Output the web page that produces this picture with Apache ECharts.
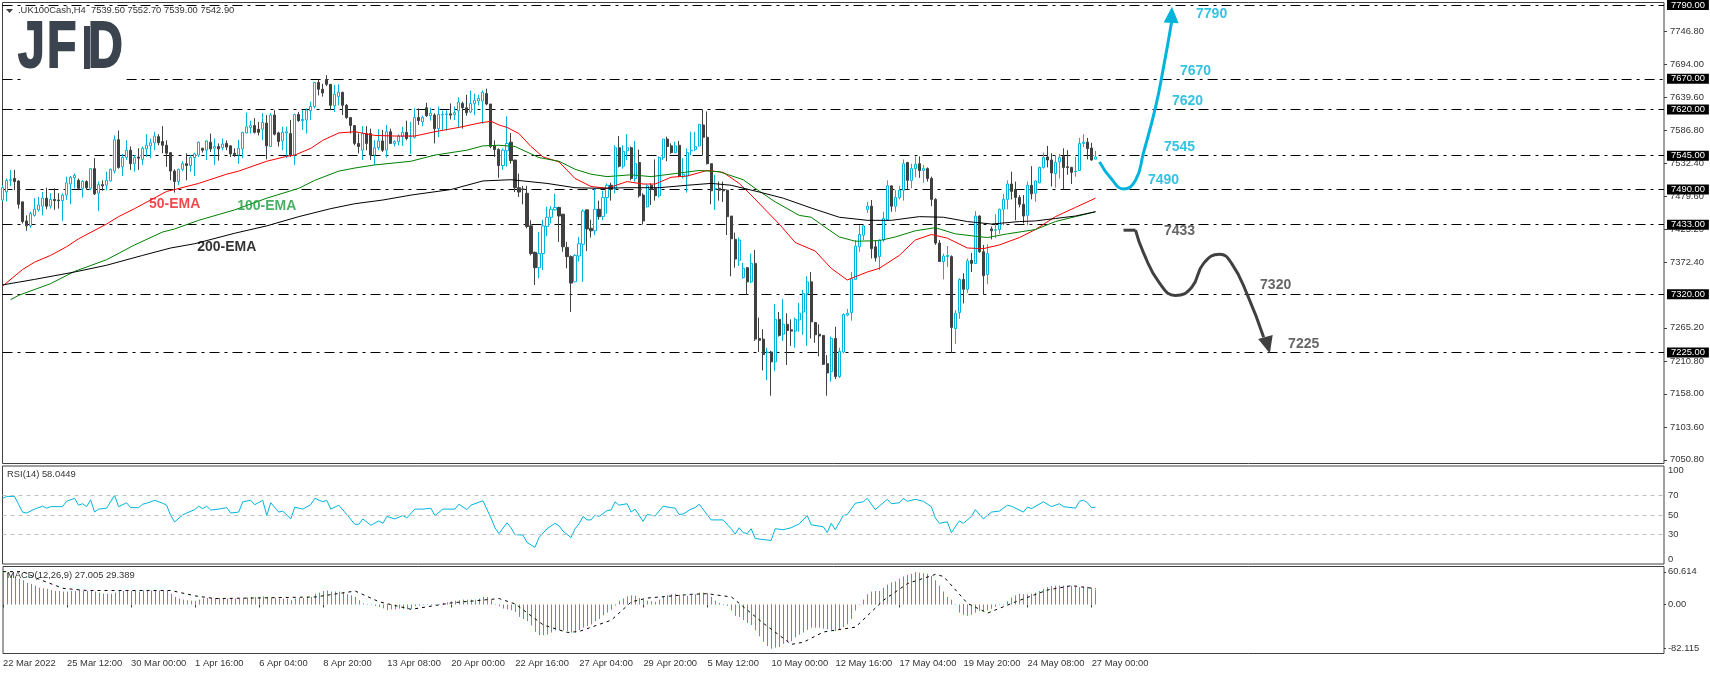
<!DOCTYPE html>
<html lang="en" style="height: 100%">
<head>
    <meta charset="utf-8"/>
    <title>UK100Cash H4</title>
    <script src="https://cdn.jsdelivr.net/npm/echarts@6/dist/echarts.min.js"></script>
    <style>
        body { margin: 0; background: #fff; }
        #container { width: 1710px; height: 674px; }
    </style>
</head>
<body>
<div id="container"></div>
<script type="text/javascript">
    // candles, oldest first
    var opens = [
        7473,7486,7505,7508,7504,7470,7439,7431,7448,7457, 7463,7476,7463,7474,7473,7472,7481,7499,7509,7505,
        7492,7503,7492,7524,7484,7498,7497,7504,7520,7571, 7527,7542,7554,7532,7543,7539,7556,7561,7566,7576,
        7568,7562,7550,7520,7503,7523,7532,7529,7542,7546, 7557,7554,7567,7557,7560,7558,7565,7561,7549,7546,
        7556,7582,7591,7594,7588,7588,7598,7560,7611,7582, 7569,7582,7581,7546,7612,7602,7603,7618,7625,7664,
        7653,7669,7661,7626,7641,7648,7627,7607,7594,7565, 7554,7581,7581,7546,7558,7569,7554,7584,7565,7568,
        7576,7583,7576,7575,7607,7600,7623,7610,7611,7589, 7611,7612,7613,7612,7618,7630,7623,7616,7630,7634,
        7634,7646,7629,7561,7555,7529,7553,7567,7538,7493, 7491,7484,7431,7388,7363,7386,7430,7445,7457,7461,
        7450,7396,7381,7340,7382,7401,7457,7427,7423,7458, 7446,7477,7497,7492,7558,7528,7553,7558,7508,7534,
        7481,7462,7497,7492,7480,7542,7572,7561,7550,7562, 7511,7512,7553,7555,7561,7595,7575,7532,7491,7492,
        7490,7489,7447,7409,7375,7347,7363,7340,7370,7248, 7247,7225,7226,7210,7279,7255,7271,7262,7260,7278,
        7291,7321,7340,7274,7255,7253,7207,7194,7248,7186, 7226,7286,7290,7344,7397,7416,7458,7463,7397,7381,
        7408,7441,7496,7463,7477,7489,7534,7505,7524,7532, 7521,7524,7508,7474,7403,7373,7381,7381,7264,7290,
        7344,7328,7375,7370,7447,7389,7352,7426,7424,7425, 7458,7474,7499,7490,7477,7466,7448,7497,7484,7501,
        7526,7543,7538,7516,7535,7544,7527,7526,7519,7521, 7565,7567,7557.5,7539.5
    ];
    var closes = [
        7493,7505,7506,7503,7466,7438,7431,7451,7458,7465, 7476,7463,7474,7472,7472,7481,7501,7510,7513,7492,
        7503,7493,7524,7483,7498,7496,7505,7523,7571,7526, 7542,7554,7532,7542,7541,7557,7562,7566,7577,7566,
        7562,7549,7520,7503,7523,7532,7529,7542,7548,7567, 7554,7569,7556,7560,7556,7564,7559,7548,7547,7557,
        7583,7592,7594,7583,7583,7599,7561,7611,7580,7568, 7583,7584,7546,7612,7602,7604,7619,7625,7664,7653,
        7647,7661,7627,7645,7648,7627,7607,7594,7565,7560, 7581,7565,7546,7558,7569,7554,7584,7565,7568,7577,
        7583,7573,7577,7607,7602,7607,7610,7614,7589,7612, 7612,7613,7611,7615,7632,7623,7615,7630,7635,7638,
        7648,7629,7560,7555,7529,7554,7565,7537,7493,7486, 7490,7430,7386,7363,7386,7431,7445,7458,7461,7447,
        7397,7381,7338,7383,7402,7455,7426,7423,7458,7446, 7477,7497,7490,7558,7528,7552,7558,7508,7532,7480,
        7439,7496,7490,7480,7542,7572,7560,7550,7561,7512, 7515,7550,7554,7560,7596,7575,7532,7488,7492,7489,
        7488,7446,7410,7377,7408,7362,7340,7370,7247,7245, 7222,7226,7210,7279,7253,7271,7261,7260,7279,7289,
        7321,7340,7275,7254,7252,7206,7192,7248,7186,7227, 7287,7289,7345,7398,7417,7431,7463,7394,7379,7408,
        7443,7496,7463,7477,7489,7532,7505,7524,7531,7521, 7524,7508,7474,7403,7373,7382,7383,7266,7289,7344,
        7328,7374,7370,7447,7389,7350,7386,7423,7424.5,7458, 7474,7499,7487,7477,7466,7447,7497,7483,7504,7526,
        7542,7538,7517,7534,7542,7526,7526,7518,7520,7565, 7567,7556.5,7538,7542.9
    ];
    var lows = [
        7471,7471,7496,7489,7459,7435,7423,7428,7446,7454, 7448,7458,7459,7457,7459,7439,7473,7466,7492,7489,
        7477,7490,7489,7481,7455,7488,7489,7503,7516,7524, 7512,7538,7522,7519,7522,7530,7543,7541,7554,7562,
        7549,7527,7505,7485,7497,7520,7505,7519,7512,7543, 7550,7538,7551,7530,7537,7554,7554,7543,7543,7532,
        7541,7581,7581,7581,7578,7570,7539,7560,7578,7560, 7554,7541,7543,7530,7600,7587,7581,7603,7622,7643,
        7641,7658,7619,7616,7627,7611,7605,7581,7562,7549, 7538,7554,7538,7530,7554,7551,7542,7564,7560,7562,
        7561,7570,7548,7573,7595,7593,7608,7602,7565,7575, 7587,7586,7604,7603,7591,7589,7610,7614,7611,7627,
        7597,7627,7557,7543,7509,7522,7527,7532,7486,7478, 7466,7427,7383,7335,7346,7359,7414,7435,7456,7405,
        7389,7362,7291,7340,7373,7340,7390,7412,7416,7441, 7440,7451,7472,7484,7526,7524,7538,7505,7503,7477,
        7433,7461,7465,7472,7477,7538,7536,7548,7549,7510, 7508,7485,7546,7553,7560,7546,7531,7466,7457,7472,
        7470,7416,7349,7363,7366,7345,7319,7338,7244,7226, 7196,7180,7155,7195,7251,7244,7205,7236,7233,7259,
        7254,7236,7248,7241,7219,7205,7155,7178,7182,7184, 7224,7284,7277,7343,7389,7408,7452,7378,7373,7359,
        7405,7439,7454,7454,7474,7472,7490,7492,7510,7509, 7501,7503,7463,7400,7373,7344,7364,7225,7239,7280,
        7305,7322,7356,7369,7387,7319,7336,7409,7411,7418, 7432,7458,7474,7440,7461,7435,7432,7474,7470,7500,
        7524,7526,7495,7493,7508,7490,7514,7499,7511,7520, 7559,7539,7537,7539
    ];
    var highs = [
        7497,7508,7522,7522,7505,7470,7448,7454,7476,7478, 7486,7493,7484,7492,7484,7484,7511,7512,7516,7508,
        7505,7505,7524,7541,7503,7505,7519,7524,7578,7586, 7548,7570,7560,7546,7557,7560,7580,7573,7584,7580,
        7593,7570,7551,7523,7524,7536,7549,7546,7550,7568, 7558,7570,7581,7573,7565,7573,7570,7562,7557,7571,
        7584,7615,7602,7606,7600,7614,7611,7614,7619,7584, 7592,7592,7603,7613,7616,7619,7622,7633,7665,7669,
        7662,7676,7661,7660,7661,7649,7629,7608,7595,7581, 7593,7593,7589,7570,7588,7587,7595,7589,7570,7580,
        7592,7602,7600,7622,7622,7610,7631,7623,7614,7625, 7618,7619,7630,7625,7640,7633,7644,7651,7646,7644,
        7651,7654,7629,7570,7557,7557,7609,7582,7538,7516, 7496,7496,7440,7389,7421,7441,7462,7463,7483,7462,
        7450,7405,7383,7385,7413,7458,7457,7441,7492,7472, 7488,7500,7501,7562,7577,7562,7580,7560,7569,7555,
        7484,7499,7500,7539,7544,7572,7576,7565,7568,7569, 7541,7557,7584,7584,7596,7620,7617,7532,7514,7503,
        7503,7490,7447,7420,7412,7371,7364,7386,7392,7282, 7263,7233,7228,7304,7291,7312,7289,7279,7282,7306,
        7327,7349,7356,7275,7271,7253,7221,7251,7267,7233, 7289,7296,7356,7408,7432,7432,7470,7473,7408,7409,
        7454,7505,7496,7489,7496,7539,7535,7532,7544,7544, 7530,7526,7511,7476,7408,7386,7398,7383,7294,7346,
        7354,7378,7387,7455,7448,7400,7401,7430,7450,7459, 7483,7505,7519,7503,7481,7481,7503,7528,7505,7527,
        7550,7561,7549,7546,7548,7557,7554,7527,7543,7574, 7580,7574,7566,7552.7
    ];

    // moving averages as [bar, price] at the points
    var ema50 = [
        [0,7333],[5,7360],[8,7372],[12,7383],[16,7397],[19,7410],[26,7434],[29,7446],[33,7459],[37,7473],
        [41,7487],[43,7490],[49,7500],[56,7515],[59,7520],[66,7536],[71,7544],[73,7546],[77,7557],[80,7570],
        [84,7582],[88,7584],[93,7578],[98,7577],[103,7577],[108,7584],[114,7591],[119,7598],[122,7601],[124,7595],
        [126,7591],[129,7581],[132,7560],[135,7543],[139,7535],[143,7508],[147,7495],[151,7492],[156,7503],[160,7499],
        [163,7499],[167,7510],[171,7512],[176,7521],[180,7518],[184,7500],[187,7481],[191,7454],[194,7434],[198,7404],
        [203,7390],[207,7362],[211,7343],[216,7356],[219,7362],[224,7383],[228,7408],[232,7417],[236,7411],[241,7395],
        [245,7394],[249,7400],[254,7412],[258,7425],[263,7446],[268,7461],[273,7476]
    ];
    var ema100 = [
        [2,7311],[4,7318],[12,7337],[18,7357],[26,7376],[33,7400],[40,7421],[43,7426],[49,7440],[58,7457],
        [66,7476],[74,7492],[78,7505],[84,7520],[88,7525],[93,7530],[102,7536],[108,7546],[116,7554],[120,7561],
        [124,7562],[128,7560],[134,7542],[139,7536],[143,7523],[147,7515],[151,7511],[157,7514],[162,7511],[168,7516],
        [174,7521],[179,7519],[185,7506],[188,7492],[193,7470],[199,7448],[202,7445],[205,7431],[209,7413],[213,7406],
        [219,7407],[223,7413],[228,7423],[233,7428],[238,7418],[246,7412],[251,7418],[258,7425],[263,7438],[268,7446],
        [273,7454]
    ];
    var ema200 = [
        [0,7335],[8,7344],[18,7356],[26,7367],[35,7383],[42,7395],[48,7402],[58,7419],[66,7431],[74,7446],
        [82,7459],[88,7467],[95,7473],[102,7481],[112,7490],[120,7504],[127,7506],[130,7504],[136,7500],[143,7493],
        [149,7492],[156,7493],[164,7493],[171,7497],[177,7500],[182,7497],[189,7486],[195,7476],[202,7460],[209,7445],
        [216,7440],[222,7440],[229,7446],[235,7445],[241,7438],[247,7434],[254,7438],[258,7439],[263,7443],[268,7447],
        [273,7454]
    ];

    var rsiValues = [
        [0,66.8],[1,69],[3,69],[4,61],[5,53],[6,52],[8,56],[10,59],[11,57],[12,58.5],[15,58.5],[16,64],[18,67],[19,60],
        [20,61.5],[21,58.5],[22,65.5],[23,53],[24,56],[26,57],[28,70],[29,58.5],[31,62.5],[32,57.5],[34,57.5],[35,61],
        [36,62],[38,65],[40,62],[41,60],[42,49.5],[43,43],[45,50],[46,52],[48,55.5],[49,59],[50,56.5],[51,59],[52,55],
        [54,56],[56,57.5],[57,52],[59,53],[60,63.5],[62,65],[63,60.5],[65,65],[66,49.5],[67,62.5],[69,53],[70,54],[72,46],
        [73,58],[75,56],[77,60.5],[78,67],[80,63.5],[81,65],[82,56],[84,60],[86,50.5],[88,40.5],[89,40.5],[90,46],[92,39.5],
        [94,44],[95,41.5],[96,48.5],[98,46],[100,49.5],[101,47],[103,56],[105,56],[107,57],[108,49.5],[110,56],[113,56],
        [114,61],[116,55.5],[117,60],[120,64.5],[122,47],[123,37],[124,31],[126,42],[127,37],[128,30],[130,29.5],[131,22],
        [133,17],[134,27],[136,36],[138,41.5],[139,39],[140,33.5],[142,27],[143,36],[144,41],[145,48.5],[146,45],[147,45],
        [148,50],[149,48.5],[151,54.5],[152,55],[153,63.5],[154,60],[156,61.5],[157,53],[158,56],[160,43.5],[161,50.5],
        [163,49],[165,59],[167,57.5],[168,57],[169,50.5],[170,51],[172,56],[173,57.5],[174,61],[177,45],[180,45],[182,36],
        [183,30.5],[184,37],[185,32],[186,31],[187,36],[188,26],[190,25],[192,24],[193,36],[195,35],[197,37],[199,41],
        [201,49.5],[202,40],[205,38],[206,32],[207,41.5],[208,35],[210,49.5],[211,50.5],[213,62],[215,63.5],[216,67],
        [218,55.5],[221,66],[222,61.5],[224,62.5],[225,67],[226,64],[228,66],[230,64],[232,58.5],[233,47],[234,41.5],
        [236,43],[237,32],[239,44],[240,41.5],[242,48.5],[243,55.5],[245,46],[247,53],[249,54],[251,60],[252,59],[255,53],
        [256,58],[257,56.5],[260,63.5],[262,58.5],[264,61.5],[265,58.5],[268,57],[269,64],[270,65],[271,62.5],[272,57.5],[273,58.0449]
    ];

    var macdBars = [
        58,59,56,51,48,45,40,38,35,31, 30,29,27,25,25,24,24,25,25,27,
        25,25,25,24,22,20,20,20,22,25, 25,25,25,25,24,26,26,26,26,26,
        25,25,20,14,11,9,8,7,7,9, 11,12,12,12,12,12,11,12,11,11,
        12,13,14,14,14,15,14,13,12,11, 11,11,8,11,12,12,14,14,20,22,
        25,26,24,24,24,23,19,17,14,8, 2,1,-1,-2.5,-4.5,-7,-10.5,-9,-9,-7.5,
        -8,-9,-8,-3,-2,-1,1,1,0.5,1, 3,4,6,7,8,9,9,9,9,11,
        14,14,8,1,-3,-7.5,-9,-10.5,-14,-23, -27,-31,-39,-51,-57,-57,-56,-52,-48,-48,
        -48,-50,-52,-52,-48,-43,-40,-37,-31,-27, -20,-15,-10,-2,7,11,15,17,16,12,
        9,7,6,5,9,14,17,19,20,18, 16,16,18,19,22,22,21,14,7,3,
        1,-2.5,-11,-21,-23,-29,-34,-38,-48,-59, -69,-77,-82,-80,-79,-73,-70,-68,-61,-56,
        -52,-47,-43,-43,-43,-45,-46,-48,-49,-47, -42,-37,-27,-11,-1,9,19,24,25,25,
        31,37,41,43,48,52,55,57,60,59, 58,57,53,45,35,24,14,9,1,-15,
        -19,-21,-19,-15,-12,-12,-11,-8,-4,-1, 1,6,13,17,20,19,19,20,22,25,
        29,32,34,35,35,35,35,35,33,32, 33,33,31,27.005
    ];
    var macdSignal = [
        [0,61],[5,61],[9,47],[15,30],[21,26],[42,26],[48,16],[53,11],[62,12],[78,14],[88,25],[94,5],[102,-9],[112,3],
        [124,11],[128,1],[135,-38],[141,-52],[144,-50],[152,-29],[157,5],[161,12],[172,19],[176,20],[182,14],[190,-35],
        [197,-74],[200,-70],[205,-51],[213,-42],[220,8],[226,39],[233,56],[235,52],[241,2],[246,-16],[253,5],[261,27],
        [267,35],[273,29.389]
    ];

    // hand drawn scenario curves, as [bar, price]
    var upPath = [[274,7535],[277,7507],[280,7491],[283,7505],[285.4,7550],[288.4,7624],[290,7689],[292,7762]];
    var downStub = [[280,7424],[283,7424]];
    var downPath = [[283,7424],[285.4,7387],[289,7338],[293.2,7318],[297,7331],[300.4,7370],[303.7,7385],[307.2,7370],[311,7318],[315.2,7250]];

    var levels = [7790, 7670, 7620, 7545, 7490, 7433, 7320, 7225];
    var priceTicks = [7746.8, 7694, 7639.6, 7586.8, 7532.4, 7479.6, 7425.2, 7372.4, 7265.2, 7210.8, 7158, 7103.6, 7050.8];
    var rsiTicks = [0, 30, 50, 70, 100];
    var macdTicks = [-82.115, 0, 60.614];
    var dateLabels = [
        '22 Mar 2022', '25 Mar 12:00', '30 Mar 00:00', '1 Apr 16:00', '6 Apr 04:00', '8 Apr 20:00',
        '13 Apr 08:00', '20 Apr 00:00', '22 Apr 16:00', '27 Apr 04:00', '29 Apr 20:00', '5 May 12:00',
        '10 May 00:00', '12 May 16:00', '17 May 04:00', '19 May 20:00', '24 May 08:00', '27 May 00:00'
    ];
    var upLabels = [['7790',302,7775],['7670',298.4,7683],['7620',296.4,7634],['7545',294,7559],['7490',290.4,7505]];
    var downLabels = [['7433',293.5,7423],['7320',318,7335],['7225',324.7,7239]];
    var emaLabels = [['50-EMA',43,7466,'#ed1c24'],['100-EMA',65.6,7463,'#1a9c3e'],['200-EMA',56.2,7396,'#000000']];

    var CYAN = '#00b4dc', DARK = '#404040', FONT = '"Liberation Sans", Arial, sans-serif';
    var LOGO = '#3b444e', SMALL = 9.4;

    var barCount = 416, labelStep = 16;
    var categories = [];
    for (var i = 0; i < barCount; i++) {
        categories.push(i % labelStep === 0 ? (dateLabels[i / labelStep] || '') : '');
    }
    var candles = opens.map(function (o, i) {
        return [o, closes[i], lows[i], highs[i]];
    });
    function isTickBar(i) {
        return i % labelStep === 0 && i / labelStep < dateLabels.length;
    }

    // one segment per level; 7670 is broken under the logo
    var levelLines = [];
    levels.forEach(function (v) {
        var name = v.toFixed(2);
        if (v === 7670) {
            levelLines.push([{coord: [0, v], label: {show: false}}, {coord: [5, v]}]);
            levelLines.push([{name: name, coord: [31, v]}, {coord: [barCount - 1, v]}]);
        } else {
            levelLines.push([{name: name, coord: [0, v]}, {coord: [barCount - 1, v]}]);
        }
    });

    function textSeries(rows, color) {
        return {
            type: 'scatter', xAxisIndex: 0, yAxisIndex: 0, symbolSize: 0, silent: true, z: 8,
            data: rows.map(function (r) {
                return {
                    value: [r[1], r[2]],
                    label: {
                        show: true, position: 'inside', formatter: r[0],
                        color: r[3] || color, fontFamily: FONT, fontWeight: 'bold', fontSize: 14
                    }
                };
            })
        };
    }
    function hiddenX(idx) {
        return {
            type: 'category', gridIndex: idx, data: categories, boundaryGap: false,
            axisLine: {show: false}, axisTick: {show: false}, axisLabel: {show: false}, splitLine: {show: false}
        };
    }
    // histogram stems snapped to whole pixels, 1px wide
    function macdStem(params, api) {
        var base = api.coord([api.value(0), 0]);
        var end = api.coord([api.value(0), api.value(1)]);
        var x = Math.round(base[0] - 0.5) + 0.5;
        return {
            type: 'line',
            shape: {x1: x, y1: base[1], x2: x, y2: end[1]},
            style: {stroke: CYAN, lineWidth: 1}
        };
    }

    var option = {
        animation: false,
        backgroundColor: '#ffffff',
        grid: [
            {left: 2.5, width: 1661.5, top: 2.5, height: 461, show: true, borderColor: DARK, borderWidth: 1, backgroundColor: '#fff'},
            {left: 2.5, width: 1661.5, top: 466, height: 98, show: true, borderColor: DARK, borderWidth: 1, backgroundColor: '#fff'},
            {left: 2.5, width: 1661.5, top: 566.5, height: 87, show: true, borderColor: DARK, borderWidth: 1, backgroundColor: '#fff'}
        ],
        xAxis: [
            hiddenX(0),
            hiddenX(1),
            {
                type: 'category', gridIndex: 2, data: categories, boundaryGap: false,
                axisLine: {show: false},
                axisTick: {show: true, interval: function (i) { return isTickBar(i); }, length: 3, lineStyle: {color: DARK}},
                axisLabel: {
                    show: true, interval: function (i) { return isTickBar(i); }, align: 'left', margin: 5,
                    fontFamily: FONT, fontSize: SMALL, color: '#333333', hideOverlap: false
                },
                splitLine: {show: false}
            }
        ],
        yAxis: [
            {
                type: 'value', gridIndex: 0, position: 'right', min: 7044.8, max: 7794, scale: true,
                axisLine: {show: false}, splitLine: {show: false},
                axisTick: {show: true, length: 3, lineStyle: {color: DARK}, customValues: priceTicks},
                axisLabel: {
                    margin: 6, fontFamily: FONT, fontSize: SMALL, color: '#333333', customValues: priceTicks,
                    formatter: function (v) { return v.toFixed(2); }
                }
            },
            {
                type: 'value', gridIndex: 1, position: 'right', min: 0, max: 100,
                axisLine: {show: false}, splitLine: {show: false}, axisTick: {show: false},
                axisLabel: {
                    margin: 4, fontFamily: FONT, fontSize: SMALL, color: '#333333', customValues: rsiTicks,
                    verticalAlignMinLabel: 'bottom', verticalAlignMaxLabel: 'top'
                }
            },
            {
                type: 'value', gridIndex: 2, position: 'right', min: -91, max: 70.6,
                axisLine: {show: false}, splitLine: {show: false},
                axisTick: {show: true, length: 2, lineStyle: {color: DARK}, customValues: macdTicks},
                axisLabel: {
                    margin: 4, fontFamily: FONT, fontSize: SMALL, color: '#333333', customValues: macdTicks,
                    formatter: function (v) { return v === 0 ? '0.00' : v.toFixed(3); }
                }
            }
        ],
        series: [
            {
                type: 'candlestick', xAxisIndex: 0, yAxisIndex: 0, data: candles, barWidth: 2.6, z: 3,
                itemStyle: {color: '#ffffff', color0: DARK, borderColor: CYAN, borderColor0: DARK, borderWidth: 1},
                markLine: {
                    silent: true, symbol: 'none', animation: false, z: 2,
                    lineStyle: {color: '#000000', width: 1, type: [10, 5, 3, 5]},
                    label: {
                        show: true, position: 'end', distance: 3, color: '#ffffff', backgroundColor: '#000000',
                        fontFamily: FONT, fontSize: SMALL, padding: [1, 4, 0, 4], formatter: '{b}'
                    },
                    data: levelLines
                }
            },
            {type: 'line', xAxisIndex: 0, yAxisIndex: 0, data: ema50, showSymbol: false, lineStyle: {color: '#ff0000', width: 1}, z: 4},
            {type: 'line', xAxisIndex: 0, yAxisIndex: 0, data: ema100, showSymbol: false, lineStyle: {color: '#008000', width: 1}, z: 4},
            {type: 'line', xAxisIndex: 0, yAxisIndex: 0, data: ema200, showSymbol: false, lineStyle: {color: '#000000', width: 1}, z: 4},
            {type: 'line', xAxisIndex: 0, yAxisIndex: 0, data: upPath, smooth: 0.5, showSymbol: false, lineStyle: {color: CYAN, width: 3}, z: 6},
            {type: 'line', xAxisIndex: 0, yAxisIndex: 0, data: downStub, showSymbol: false, lineStyle: {color: DARK, width: 3}, z: 6},
            {type: 'line', xAxisIndex: 0, yAxisIndex: 0, data: downPath, smooth: 0.5, showSymbol: false, lineStyle: {color: DARK, width: 3}, z: 6},
            {
                type: 'scatter', xAxisIndex: 0, yAxisIndex: 0, symbol: 'triangle', symbolSize: [15, 16], symbolRotate: -3,
                data: [[292.3, 7774]], itemStyle: {color: CYAN, opacity: 1}, z: 7
            },
            {
                type: 'scatter', xAxisIndex: 0, yAxisIndex: 0, symbol: 'triangle', symbolSize: [15, 17], symbolRotate: 195,
                data: [[315.8, 7237]], itemStyle: {color: DARK, opacity: 1}, z: 7
            },
            textSeries(upLabels, CYAN),
            textSeries(downLabels, DARK),
            textSeries(emaLabels, '#000'),
            {
                type: 'line', xAxisIndex: 1, yAxisIndex: 1, data: rsiValues, showSymbol: false, lineStyle: {color: CYAN, width: 1},
                markLine: {
                    silent: true, symbol: 'none', animation: false,
                    lineStyle: {color: '#c0c0c0', width: 1, type: [4, 4]}, label: {show: false},
                    data: [{yAxis: 70}, {yAxis: 50}, {yAxis: 30}]
                }
            },
            {
                type: 'custom', xAxisIndex: 2, yAxisIndex: 2, renderItem: macdStem, encode: {x: 0, y: 1},
                data: macdBars.map(function (v, i) { return [i, v]; })
            },
            {type: 'line', xAxisIndex: 2, yAxisIndex: 2, data: macdSignal, showSymbol: false, lineStyle: {color: '#000000', width: 1, type: [3, 4]}, z: 4}
        ],
        graphic: [
            {type: 'polygon', shape: {points: [[6, 9], [13, 9], [9.5, 13]]}, style: {fill: DARK}, z: 20},
            {type: 'text', x: 18, y: 6, z: 20, style: {text: '.UK100Cash,H4  7539.50 7552.70 7539.00 7542.90', font: SMALL + 'px ' + FONT, fill: '#333333'}},
            {type: 'text', x: 7, y: 470, z: 20, style: {text: 'RSI(14) 58.0449', font: SMALL + 'px ' + FONT, fill: '#333333'}},
            {type: 'text', x: 7, y: 571, z: 20, style: {text: 'MACD(12,26,9) 27.005 29.389', font: SMALL + 'px ' + FONT, fill: '#333333'}},
            // logo
            {type: 'text', x: 18, y: 17, scaleX: 0.74, z: 20, style: {text: 'J', font: 'bold 65px ' + FONT, fill: LOGO, stroke: LOGO, lineWidth: 2}},
            {type: 'text', x: 47, y: 17, scaleX: 0.74, z: 20, style: {text: 'F', font: 'bold 65px ' + FONT, fill: LOGO, stroke: LOGO, lineWidth: 2}},
            {type: 'rect', shape: {x: 84, y: 26, width: 6, height: 43}, style: {fill: LOGO}, z: 20},
            {type: 'text', x: 88, y: 17, scaleX: 0.74, z: 20, style: {text: 'D', font: 'bold 65px ' + FONT, fill: LOGO, stroke: LOGO, lineWidth: 2}}
        ]
    };

    var myChart = echarts.init(document.getElementById('container'));
    myChart.setOption(option);
</script>
</body>
</html>
